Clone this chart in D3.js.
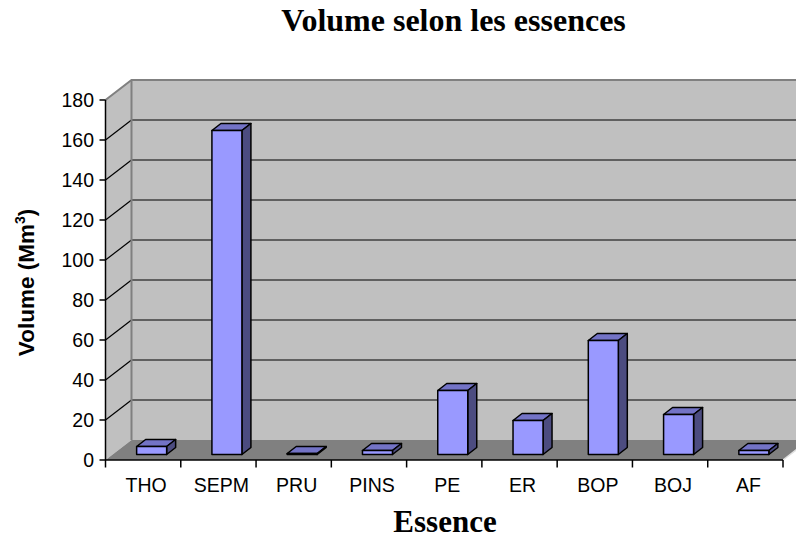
<!DOCTYPE html>
<html><head><meta charset="utf-8">
<script src="https://cdn.jsdelivr.net/npm/d3@7"></script>
<style>body{margin:0;background:#fff}svg{display:block}</style>
</head><body>
<svg id="c" width="796" height="539"></svg>
<script>
const categories = ["THO","SEPM","PRU","PINS","PE","ER","BOP","BOJ","AF"];
const values = [4, 162, 0.5, 2, 32, 17, 57, 20, 2];
const yTicks = [0,20,40,60,80,100,120,140,160,180];
const title = "Volume selon les essences";
const xTitle = "Essence";

const svg = d3.select("#c");
const x0 = 105.5, xEnd = 783;
const DX = 26, DY = -20;          // wall depth
const BX = 8.5, BY = -5.5;        // bar front offset
const BDX = 9, BDY = -7;          // bar depth
const barW = 30;

const x = d3.scaleBand().domain(categories).range([x0, xEnd]).padding(0);
const y = d3.scaleLinear().domain([0,180]).range([460,100]);

const poly = pts => pts.map(p=>p.join(",")).join(" ");

// back wall
svg.append("polygon").attr("points", poly([[x0+DX,y(180)+DY],[xEnd+DX,y(180)+DY],[xEnd+DX,y(0)+DY],[x0+DX,y(0)+DY]]))
  .attr("fill","#C0C0C0");
// side wall
svg.append("polygon").attr("points", poly([[x0,y(0)],[x0,y(180)],[x0+DX,y(180)+DY],[x0+DX,y(0)+DY]]))
  .attr("fill","#C0C0C0");
// floor
svg.append("polygon").attr("points", poly([[x0,y(0)],[xEnd,y(0)],[xEnd+DX,y(0)+DY],[x0+DX,y(0)+DY]]))
  .attr("fill","#808080");
svg.append("line").attr("x1",xEnd).attr("y1",y(0)).attr("x2",xEnd+DX).attr("y2",y(0)+DY)
  .attr("stroke","#e0e0e0").attr("stroke-width",1.5);

// gridlines
const grid = yTicks.filter(v=>v>0 && v<180);
svg.selectAll(".gb").data(grid).join("line")
  .attr("x1",x0+DX).attr("x2",xEnd+DX).attr("y1",d=>y(d)+DY).attr("y2",d=>y(d)+DY)
  .attr("stroke","#000").attr("stroke-width",1.2);
svg.selectAll(".gs").data(grid).join("line")
  .attr("x1",x0).attr("x2",x0+DX).attr("y1",d=>y(d)).attr("y2",d=>y(d)+DY)
  .attr("stroke","#000").attr("stroke-width",1.2);

// wall borders (gray)
svg.append("polyline").attr("points", poly([[x0,y(180)],[x0+DX,y(180)+DY],[xEnd+DX,y(180)+DY]]))
  .attr("fill","none").attr("stroke","#808080").attr("stroke-width",2);
svg.append("line").attr("x1",x0+DX).attr("x2",x0+DX).attr("y1",y(180)+DY).attr("y2",y(0)+DY)
  .attr("stroke","#808080").attr("stroke-width",2);

// bars
const bars = svg.append("g");
categories.forEach((c,i)=>{
  const v = values[i];
  const xl = x(c) + x.bandwidth()/2 + BX - barW/2;
  const xr = xl + barW;
  const yb = y(0) + BY;
  const yt = y(v) + BY;
  const g = bars.append("g").attr("stroke","#000").attr("stroke-width",1.5).attr("stroke-linejoin","round");
  g.append("polygon").attr("points", poly([[xl,yt],[xr,yt],[xr+BDX,yt+BDY],[xl+BDX,yt+BDY]])).attr("fill","#7373C6");
  g.append("polygon").attr("points", poly([[xr,yb],[xr,yt],[xr+BDX,yt+BDY],[xr+BDX,yb+BDY]])).attr("fill","#4C4C80");
  g.append("rect").attr("x",xl).attr("y",yt).attr("width",barW).attr("height",Math.max(0.5,yb-yt)).attr("fill","#9999FF");
});

// axes
svg.append("line").attr("x1",x0).attr("x2",x0).attr("y1",y(0)).attr("y2",y(180)).attr("stroke","#000").attr("stroke-width",1.5);
svg.append("line").attr("x1",x0).attr("x2",xEnd).attr("y1",y(0)).attr("y2",y(0)).attr("stroke","#000").attr("stroke-width",1.5);
svg.selectAll(".yt").data(yTicks).join("line")
  .attr("x1",x0-6).attr("x2",x0).attr("y1",d=>y(d)).attr("y2",d=>y(d)).attr("stroke","#000").attr("stroke-width",1.5);
svg.selectAll(".ytl").data(yTicks).join("text")
  .attr("x",94).attr("y",d=>y(d)).attr("dy","0.35em").attr("text-anchor","end")
  .attr("font-family","'Liberation Sans', Arial, sans-serif").attr("font-size",19.5).text(d=>d);
const bounds = categories.map(c=>x(c)).concat([xEnd]);
svg.selectAll(".xt").data(bounds).join("line")
  .attr("x1",d=>d).attr("x2",d=>d).attr("y1",y(0)).attr("y2",y(0)+7.5).attr("stroke","#000").attr("stroke-width",1.5);
svg.selectAll(".xtl").data(categories).join("text")
  .attr("x",d=>x(d)+x.bandwidth()/2+3).attr("y",491.5).attr("text-anchor","middle")
  .attr("font-family","'Liberation Sans', Arial, sans-serif").attr("font-size",19.5).text(d=>d);

// titles
svg.append("text").attr("x",453.5).attr("y",31).attr("text-anchor","middle")
  .attr("font-family","'Liberation Serif','Times New Roman',serif").attr("font-weight","bold").attr("font-size",32).text(title);
svg.append("text").attr("x",445).attr("y",532).attr("text-anchor","middle")
  .attr("font-family","'Liberation Serif','Times New Roman',serif").attr("font-weight","bold").attr("font-size",31).text(xTitle);
const yl = svg.append("text").attr("transform","translate(34,282.5) rotate(-90)").attr("text-anchor","middle")
  .attr("font-family","'Liberation Sans', Arial, sans-serif").attr("font-weight","bold").attr("font-size",22.5);
yl.append("tspan").text("Volume (Mm");
yl.append("tspan").attr("dy",-9).attr("font-size",14).text("3");
yl.append("tspan").attr("dy",9).text(")");
</script>
</body></html>
